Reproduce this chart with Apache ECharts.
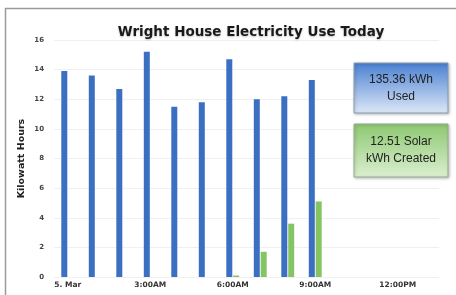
<!DOCTYPE html>
<html><head><meta charset="utf-8">
<script src="https://cdn.jsdelivr.net/npm/echarts@6/dist/echarts.min.js"></script>
<style>html,body{margin:0;padding:0;background:#fff}#c{width:456px;height:295px}</style>
</head><body><div id="c"></div>
<script>
var hours = [0,1,2,3,4,5,6,7,8,9];
var usedKwh = [13.9,13.6,12.7,15.2,11.5,11.8,14.7,12.0,12.2,13.3];
var solarKwh = [0,0,0,0,0,0,0.1,1.7,3.6,5.1];
var tickHours = [0,3,6,9,12];
var tickLabels = ['5. Mar','3:00AM','6:00AM','9:00AM','12:00PM'];
var totalUsed = '135.36 kWh\nUsed';
var totalSolar = '12.51 Solar\nkWh Created';

var chart = echarts.init(document.getElementById('c'));
chart.setOption({
  animation:false,
  grid:{left:54,right:17,top:40,bottom:18},
  title:{text:'Wright House Electricity Use Today',left:246,top:20,textAlign:'center',
    textStyle:{fontFamily:'DejaVu Sans',fontWeight:'bold',fontSize:13.5,color:'#1a1a1a',
      textShadowColor:'rgba(0,0,0,0.25)',textShadowBlur:2,textShadowOffsetY:1}},
  xAxis:{type:'value',min:-0.5,max:13.5,
    axisLine:{show:false},axisTick:{show:false},splitLine:{show:false},
    axisLabel:{customValues:tickHours,margin:4,fontFamily:'DejaVu Sans',fontWeight:'bold',fontSize:7.5,color:'#333',
      formatter:function(v){var i=tickHours.indexOf(v);return i>=0?tickLabels[i]:'';}}},
  yAxis:{type:'value',min:0,max:16,interval:2,
    name:'Kilowatt Hours',nameLocation:'middle',nameGap:27,nameMoveOverlap:false,
    nameTextStyle:{fontFamily:'DejaVu Sans',fontWeight:'bold',fontSize:9.5,color:'#222'},
    axisLine:{show:false},axisTick:{show:false},
    splitLine:{lineStyle:{color:'#f0f0f0',width:1}},
    axisLabel:{margin:10,fontFamily:'DejaVu Sans',fontWeight:'bold',fontSize:7,color:'#444'}},
  series:[
    {type:'bar',data:hours.map(function(h,i){return [h,usedKwh[i]];}),barWidth:6,barGap:'15%',
      itemStyle:{color:'#3b6fc2'}},
    {type:'bar',data:hours.map(function(h,i){return [h,solarKwh[i]];}),barWidth:6,barGap:'15%',
      itemStyle:{color:'#84c462'}}
  ],
  graphic:[
    {type:'rect',z:100,shape:{x:5.5,y:8.5,width:470,height:320},style:{fill:'none',stroke:'#9a9a9a',lineWidth:1.5},silent:true},
    {type:'rect',z:100,shape:{x:354,y:63,width:94,height:50},
      style:{fill:new echarts.graphic.LinearGradient(0,0,0,1,[{offset:0,color:'#4a80d2'},{offset:1,color:'#dde8f7'}]),
        stroke:'#8a9ab0',lineWidth:1,shadowColor:'rgba(0,0,0,0.25)',shadowBlur:3,shadowOffsetX:1,shadowOffsetY:1}},
    {type:'text',z:101,x:401,y:88,style:{text:totalUsed,align:'center',verticalAlign:'middle',
      font:'12px "Liberation Sans", Arial, sans-serif',fill:'#222',lineHeight:17}},
    {type:'rect',z:100,shape:{x:354,y:124,width:94,height:53},
      style:{fill:new echarts.graphic.LinearGradient(0,0,0,1,[{offset:0,color:'#8cc870'},{offset:1,color:'#dcefd0'}]),
        stroke:'#9aaa90',lineWidth:1,shadowColor:'rgba(0,0,0,0.25)',shadowBlur:3,shadowOffsetX:1,shadowOffsetY:1}},
    {type:'text',z:101,x:401,y:150,style:{text:totalSolar,align:'center',verticalAlign:'middle',
      font:'12px "Liberation Sans", Arial, sans-serif',fill:'#222',lineHeight:17}}
  ]
});
</script></body></html>
